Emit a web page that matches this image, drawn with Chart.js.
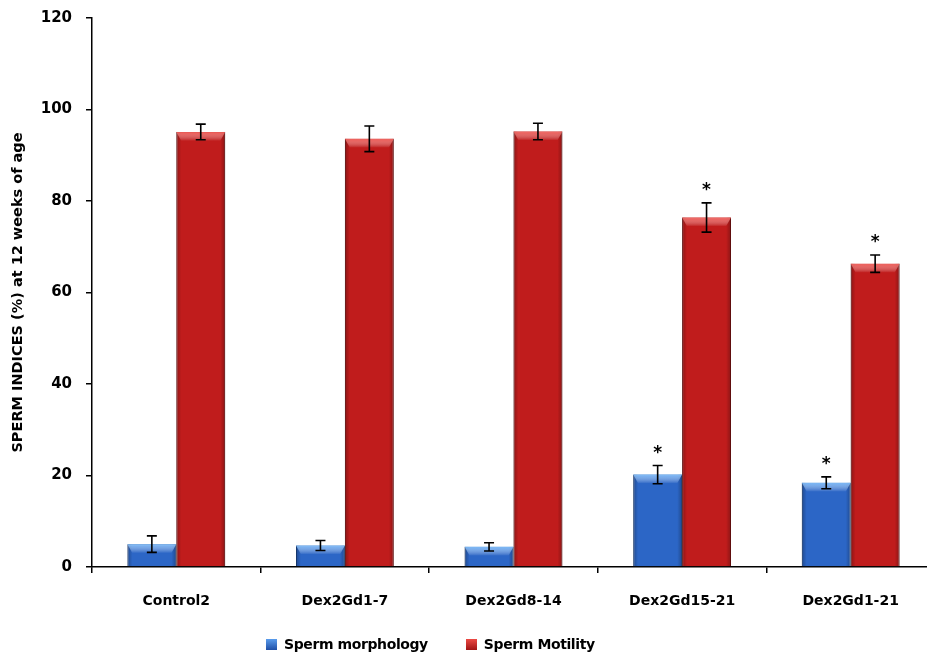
<!DOCTYPE html>
<html>
<head>
<meta charset="utf-8">
<script src="https://cdn.jsdelivr.net/npm/chart.js@4/dist/chart.umd.min.js"></script>
<style>
  html, body { margin: 0; padding: 0; background: #fff; overflow: hidden; }
  #wrap { position: relative; width: 927px; height: 653px; overflow: hidden; }
  #box { position: absolute; left: 0; top: -5px; width: 940px; height: 658px; }
  #legend { position: absolute; top: 636px; left: 266px; display: flex; align-items: center;
            font: bold 14px "DejaVu Sans", sans-serif; color: #000; letter-spacing: -0.4px; }
  .item { display: flex; align-items: center; margin-right: 38px; }
  .sw { width: 11px; height: 11px; margin-right: 7px; }
</style>
</head>
<body>
<div id="wrap">
  <div id="box"><canvas id="c"></canvas></div>
  <div id="legend">
    <div class="item"><span class="sw" style="background:linear-gradient(#5a9cec,#1f4fa6)"></span>Sperm morphology</div>
    <div class="item"><span class="sw" style="background:linear-gradient(#ec4a44,#a11414)"></span>Sperm Motility</div>
  </div>
</div>
<script>
// Groups of animals and their sperm indices (mean ± error) at 12 weeks of age
const groups = ['Control2', 'Dex2Gd1-7', 'Dex2Gd8-14', 'Dex2Gd15-21', 'Dex2Gd1-21'];
const morphology = [5.0, 4.7, 4.4, 20.2, 18.4];
const morphologyErr = [1.8, 1.1, 0.9, 2.0, 1.3];
const motility = [95.1, 93.6, 95.2, 76.4, 66.3];
const motilityErr = [1.7, 2.8, 1.8, 3.2, 1.9];
const morphologySig = [false, false, false, true, true];
const motilitySig = [false, false, false, true, true];
const yMin = 0, yMax = 120, yStep = 20;

const FONT = '"DejaVu Sans", sans-serif';

// Bevel shading on each bar: darker side edges and a lighter top rim
const bevelPlugin = {
  id: 'bevel',
  afterDatasetsDraw(chart) {
    const ctx = chart.ctx;
    chart.data.datasets.forEach((ds, i) => {
      const meta = chart.getDatasetMeta(i);
      meta.data.forEach(el => {
        const { x, y, base, width } = el.getProps(['x', 'y', 'base', 'width'], true);
        const l = x - width / 2, r = x + width / 2;
        ctx.save();
        const g = ctx.createLinearGradient(l, 0, r, 0);
        g.addColorStop(0, 'rgba(0,0,0,0.28)');
        g.addColorStop(0.1, 'rgba(0,0,0,0)');
        g.addColorStop(0.9, 'rgba(0,0,0,0)');
        g.addColorStop(1, 'rgba(0,0,0,0.28)');
        ctx.fillStyle = g;
        ctx.fillRect(l, y, width, base - y);
        const rim = ctx.createLinearGradient(0, y, 0, y + 9);
        rim.addColorStop(0, ds.rimColor);
        rim.addColorStop(1, 'rgba(255,255,255,0)');
        ctx.beginPath();
        ctx.moveTo(l, y);
        ctx.lineTo(r, y);
        ctx.lineTo(r - 5, y + 9);
        ctx.lineTo(l + 5, y + 9);
        ctx.closePath();
        ctx.fillStyle = rim;
        ctx.fill();
        ctx.restore();
      });
    });
  }
};

// Error bars with caps and significance asterisks above them
const errorPlugin = {
  id: 'errorBars',
  afterDatasetsDraw(chart) {
    const ctx = chart.ctx;
    const ys = chart.scales.y;
    chart.data.datasets.forEach((ds, i) => {
      const meta = chart.getDatasetMeta(i);
      meta.data.forEach((el, j) => {
        const v = ds.data[j], e = ds.err[j];
        const x = el.x;
        const top = ys.getPixelForValue(v + e);
        const bot = ys.getPixelForValue(v - e);
        ctx.save();
        ctx.strokeStyle = '#000';
        ctx.lineWidth = 1.6;
        ctx.beginPath();
        ctx.moveTo(x, top); ctx.lineTo(x, bot);
        ctx.moveTo(x - 5, top); ctx.lineTo(x + 5, top);
        ctx.moveTo(x - 5, bot); ctx.lineTo(x + 5, bot);
        ctx.stroke();
        if (ds.sig[j]) {
          ctx.fillStyle = '#000';
          ctx.font = 'bold 17px ' + FONT;
          ctx.textAlign = 'center';
          ctx.textBaseline = 'middle';
          ctx.fillText('*', x, top - 12);
        }
        ctx.restore();
      });
    });
  }
};

new Chart(document.getElementById('c'), {
  type: 'bar',
  data: {
    labels: groups,
    datasets: [
      { label: 'Sperm morphology', data: morphology, err: morphologyErr, sig: morphologySig,
        backgroundColor: '#2c66c6', borderColor: '#1c478f', borderWidth: 1, rimColor: 'rgba(120,185,250,0.95)' },
      { label: 'Sperm Motility', data: motility, err: motilityErr, sig: motilitySig,
        backgroundColor: '#c01c1c', borderColor: '#7e1010', borderWidth: 1, rimColor: 'rgba(245,90,85,0.95)' }
    ]
  },
  options: {
    responsive: true,
    maintainAspectRatio: false,
    animation: false,
    categoryPercentage: 0.58,
    barPercentage: 1.0,
    layout: { padding: { left: 0, right: 5, top: 12, bottom: 0 } },
    plugins: { legend: { display: false }, tooltip: { enabled: false } },
    scales: {
      x: {
        grid: { display: true, drawOnChartArea: false, drawTicks: true, tickLength: 6, color: '#000', lineWidth: 1.5, offset: true },
        border: { color: '#000', width: 1.5 },
        ticks: { color: '#000', padding: 20, font: { family: FONT, size: 14, weight: 'bold' } },
        afterFit(s) { s.height = 86; }
      },
      y: {
        min: yMin, max: yMax,
        grid: { display: true, drawOnChartArea: false, drawTicks: true, tickLength: 6, color: '#000', lineWidth: 1.5 },
        border: { color: '#000', width: 1.5 },
        ticks: { stepSize: yStep, color: '#000', padding: 14, font: { family: FONT, size: 15, weight: 'bold' } },
        title: { display: true, text: 'SPERM INDICES (%) at 12 weeks of age', color: '#000',
                 padding: { top: 10, bottom: 0 }, font: { family: FONT, size: 14.5, weight: 'bold' } },
        afterFit(s) { s.width = 92; }
      }
    }
  },
  plugins: [bevelPlugin, errorPlugin]
});
</script>
</body>
</html>
